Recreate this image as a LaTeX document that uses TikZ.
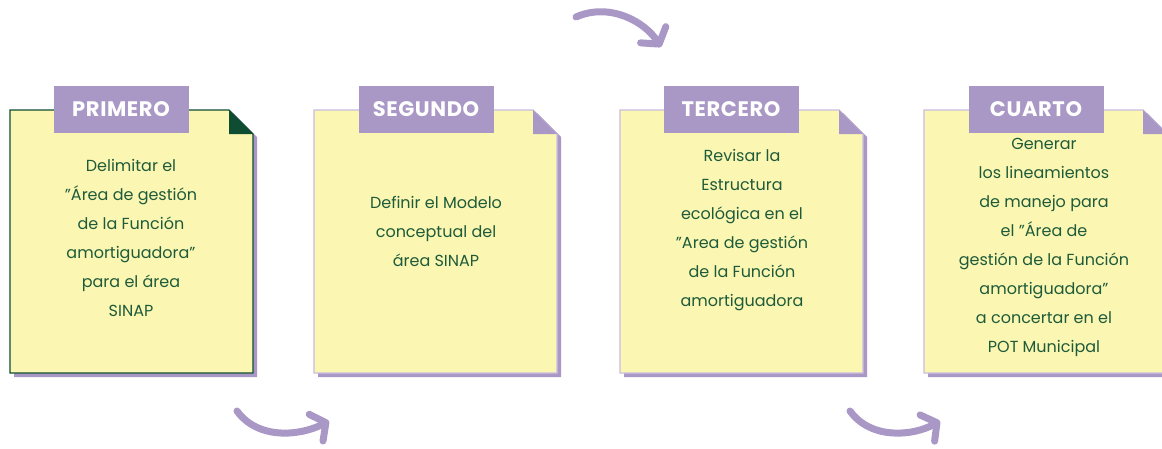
\documentclass[tikz,border=0pt]{standalone}
\usepackage{fontspec}
\setmainfont{Poppins}
\usepackage{tikz}
\usetikzlibrary{arrows.meta}

\definecolor{notefill}{HTML}{FBF6B2}
\definecolor{lilac}{HTML}{A998C6}
\definecolor{lilacline}{HTML}{C9BCE0}
\definecolor{darkgreen}{HTML}{0F4D33}
\definecolor{textgreen}{HTML}{1E5B3A}

\begin{document}
\begin{tikzpicture}[x=1pt,y=-1pt,
  note/.style={fill=notefill,draw=lilacline,line width=1.2pt},
  shadow/.style={fill=lilac},
  tag/.style={fill=lilac,minimum width=135pt,minimum height=47pt,inner sep=0pt,
    text=white,font=\fontsize{21}{21}\selectfont\bfseries\addfontfeatures{LetterSpace=3}},
  body/.style={align=center,text=textgreen,font=\fontsize{16}{29}\selectfont},
  flow/.style={draw=lilac,line width=7pt,line cap=round,
    -{Straight Barb[round,length=11pt,width=30pt]}}]

  \useasboundingbox (0,0) rectangle (1162,448);

  % first note
  \fill[shadow] (14,113) -- (233,113) -- (257,137) -- (257,377) -- (14,377) -- cycle;
  \draw[note,draw=darkgreen] (10,110) -- (229,110) -- (253,134) -- (253,373) -- (10,373) -- cycle;
  \fill[darkgreen] (229,110) -- (229,134) -- (253,134) -- cycle;
  \node[tag] (first) at (121,109.5) {PRIMERO};
  \node[body] (firsttext) at (131,238) {Delimitar el\\"Área de gestión\\de la Función\\amortiguadora"\\para el área\\SINAP};

  % second note
  \fill[shadow] (318,113) -- (537,113) -- (561,137) -- (561,377) -- (318,377) -- cycle;
  \draw[note] (314,110) -- (533,110) -- (557,134) -- (557,373) -- (314,373) -- cycle;
  \fill[lilac] (533,110) -- (533,134) -- (557,134) -- cycle;
  \node[tag] (second) at (426,109.5) {SEGUNDO};
  \node[body] (secondtext) at (436,231) {Definir el Modelo\\conceptual del\\área SINAP};

  % third note
  \fill[shadow] (624,113) -- (843,113) -- (867,137) -- (867,377) -- (624,377) -- cycle;
  \draw[note] (620,110) -- (839,110) -- (863,134) -- (863,373) -- (620,373) -- cycle;
  \fill[lilac] (839,110) -- (839,134) -- (863,134) -- cycle;
  \node[tag] (third) at (731,109.5) {TERCERO};
  \node[body] (thirdtext) at (742,230) {Revisar la\\Estructura\\ecológica en el\\"Area de gestión\\de la Función\\amortiguadora};

  % fourth note
  \fill[shadow] (928,113) -- (1147,113) -- (1171,137) -- (1171,377) -- (928,377) -- cycle;
  \draw[note] (924,110) -- (1143,110) -- (1167,134) -- (1167,373) -- (924,373) -- cycle;
  \fill[lilac] (1143,110) -- (1143,134) -- (1167,134) -- cycle;
  \node[tag] (fourth) at (1036,109.5) {CUARTO};
  \node[body] (fourthtext) at (1044,247) {Generar\\los lineamientos\\de manejo para\\el "Área de\\gestión de la Función\\amortiguadora"\\a concertar en el\\POT Municipal};

  % arrows
  \coordinate (up1) at (237,411);
  \coordinate (up2) at (329,421);
  \coordinate (top1) at (576,17);
  \coordinate (top2) at (661,47);
  \coordinate (low1) at (850,411);
  \coordinate (low2) at (940,421);
  \draw[flow] (up1) .. controls (258,440) and (300,436) .. (up2);
  \draw[flow] (top1) .. controls (610,2) and (645,22) .. (top2);
  \draw[flow] (low1) .. controls (871,440) and (913,436) .. (low2);
\end{tikzpicture}
\end{document}
